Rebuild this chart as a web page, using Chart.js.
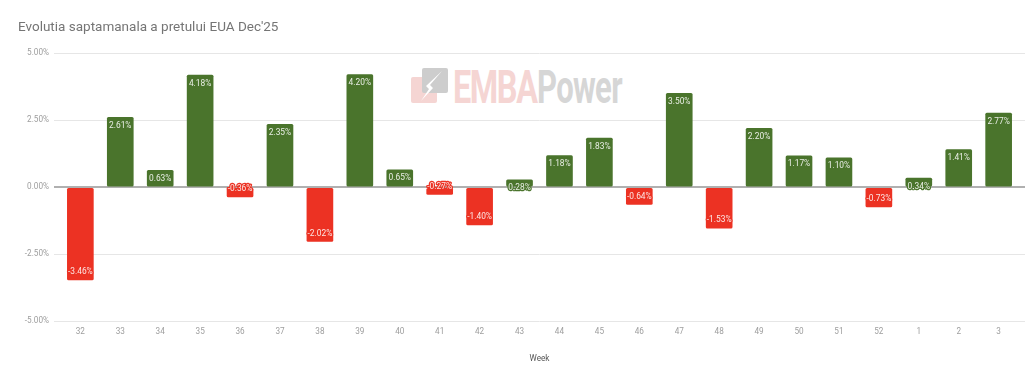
<!DOCTYPE html>
<html lang="en">
<head>
    <meta charset="UTF-8">
    <title>Evolutia saptamanala a pretului EUA Dec'25</title>
    <script src="https://cdn.jsdelivr.net/npm/chart.js"></script>
    <style>
        html, body { margin: 0; padding: 0; background: #fff; }
        #wrap { position: relative; width: 1030px; height: 374px; overflow: hidden; }
        #logo { position: absolute; left: 410px; top: 66px; width: 215px; height: 42px; }
        .logoWord { position: absolute; top: -7px; font: bold 47px Roboto, sans-serif; white-space: nowrap; transform-origin: left; }
        canvas { position: absolute; left: 0; top: 0; }
    </style>
</head>
<body>
<div id="wrap">
    <div id="logo">
        <svg width="42" height="42" style="position:absolute;left:0;top:0">
            <rect x="1" y="11" width="26" height="26" rx="2" fill="#f5d5d3"/>
            <rect x="12" y="2" width="26" height="25" rx="2" fill="#cdcdcd"/>
            <path d="M32 5 L16 20 L19 23 L11 35 L23 22 L20 19 z" fill="#fff"/>
        </svg>
        <div class="logoWord" style="left:43px;color:#f5d5d3;letter-spacing:-2px;transform:scaleX(0.69)">EMBA</div>
        <div class="logoWord" style="left:127px;color:#d6d6d6;letter-spacing:-1px;transform:scaleX(0.66)">Power</div>
    </div>
    <canvas id="weekChart" width="1030" height="374"></canvas>
</div>
<script>
const weeks = ['32','33','34','35','36','37','38','39','40','41','42','43','44','45','46','47','48','49','50','51','52','1','2','3'];
const changes = [-3.46,2.61,0.63,4.18,-0.36,2.35,-2.02,4.20,0.65,-0.27,-1.40,0.28,1.18,1.83,-0.64,3.50,-1.53,2.20,1.17,1.10,-0.73,0.34,1.41,2.77];

const GREEN = '#4a742c';
const RED = '#ec3223';

// white value labels just inside the end of each bar, with a halo in the bar colour
const barLabels = {
    id: 'barLabels',
    afterDatasetsDraw(chart) {
        const c = chart.ctx;
        c.save();
        c.font = '8.4px Roboto';
        c.textAlign = 'center';
        c.textBaseline = 'middle';
        c.lineJoin = 'round';
        chart.getDatasetMeta(0).data.forEach((bar, i) => {
            const v = changes[i];
            const y = v >= 0 ? bar.y + 8.5 : bar.y - 8;
            const text = v.toFixed(2) + '%';
            c.strokeStyle = v >= 0 ? GREEN : RED;
            c.lineWidth = 2.5;
            c.strokeText(text, bar.x, y);
            c.fillStyle = 'rgba(255,255,255,0.88)';
            c.fillText(text, bar.x, y);
        });
        c.restore();
    }
};

const ctx = document.getElementById('weekChart').getContext('2d');
new Chart(ctx, {
    type: 'bar',
    data: {
        datasets: [{
            data: changes.map((v, i) => ({ x: i, y: v })),
            backgroundColor: changes.map(v => v >= 0 ? GREEN : RED),
            borderRadius: { topLeft: 1.5, topRight: 1.5, bottomLeft: 1.5, bottomRight: 1.5 },
            borderSkipped: false,
            barThickness: 26
        }]
    },
    plugins: [barLabels],
    options: {
        responsive: false,
        animation: false,
        layout: { padding: { left: 18, right: 5, top: 0, bottom: 10 } },
        plugins: {
            legend: { display: false },
            tooltip: { enabled: false },
            title: {
                display: true,
                text: "Evolutia saptamanala a pretului EUA Dec'25",
                align: 'start',
                color: '#757575',
                font: { family: 'Roboto', size: 13.5, weight: 'normal' },
                padding: { top: 20, bottom: 17 }
            }
        },
        scales: {
            x: {
                type: 'linear',
                offset: false,
                min: -0.66,
                max: 23.66,
                grid: { display: false, drawTicks: false },
                border: { display: false },
                ticks: {
                    stepSize: 1,
                    includeBounds: false,
                    autoSkip: false,
                    maxRotation: 0,
                    color: '#9e9e9e',
                    font: { family: 'Roboto', size: 8.2 },
                    padding: 6,
                    callback: v => weeks[v]
                },
                title: {
                    display: true,
                    text: 'Week',
                    color: '#555555',
                    font: { family: 'Roboto', size: 8.2 },
                    padding: { top: 11, bottom: 0 }
                }
            },
            y: {
                min: -5,
                max: 5,
                afterFit(axis) { axis.width = 36; },
                border: { display: false },
                grid: {
                    drawTicks: false,
                    color: c => c.tick.value === 0 ? '#b0b0b0' : '#e6e6e6',
                    lineWidth: c => c.tick.value === 0 ? 2 : 1
                },
                ticks: {
                    stepSize: 2.5,
                    color: '#9e9e9e',
                    font: { family: 'Roboto', size: 8.2 },
                    padding: 5,
                    callback: v => v.toFixed(2) + '%'
                }
            }
        }
    }
});
</script>
</body>
</html>
